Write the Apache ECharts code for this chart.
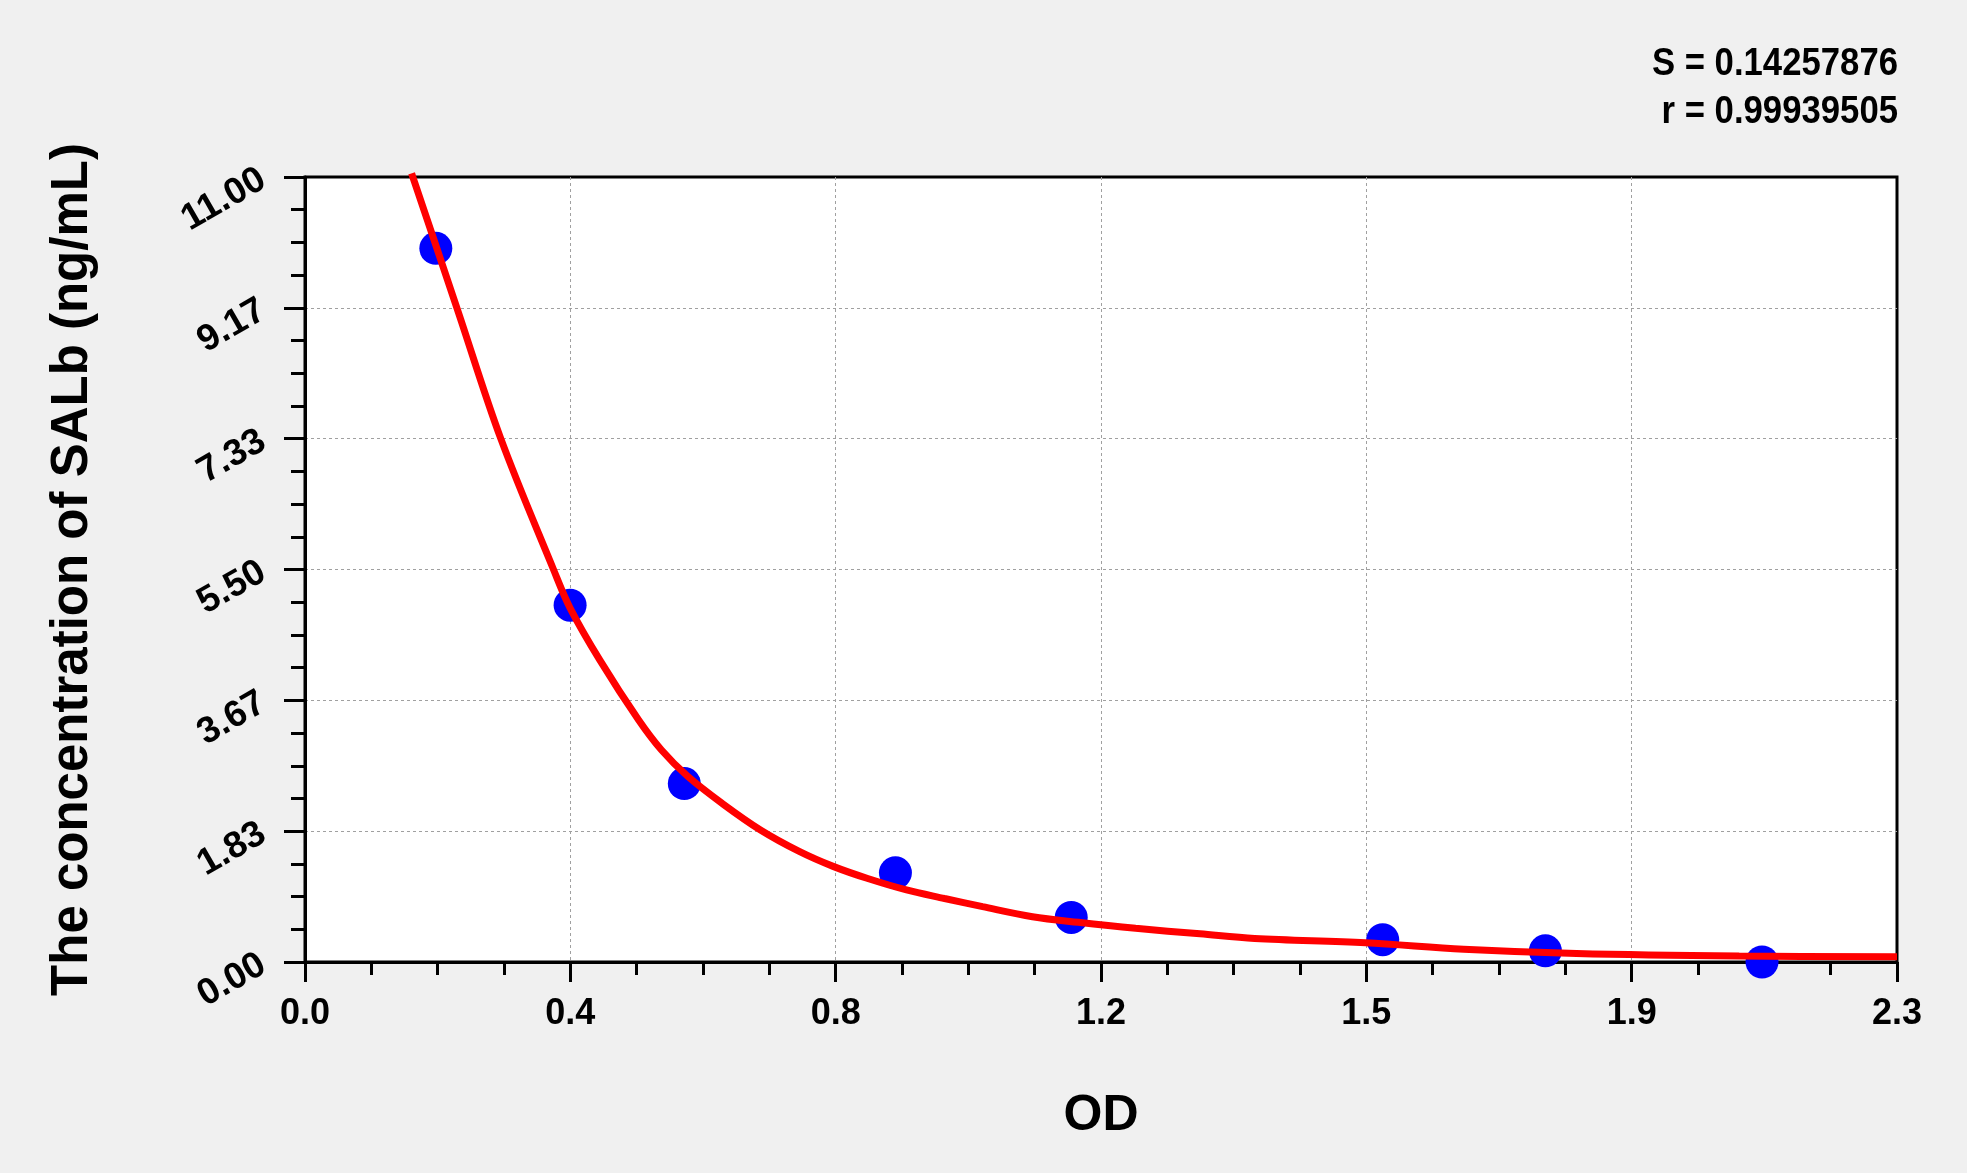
<!DOCTYPE html>
<html>
<head>
<meta charset="utf-8">
<script src="https://cdn.jsdelivr.net/npm/echarts@6/dist/echarts.min.js"></script>
<style>
html,body{margin:0;padding:0;background:#f0f0f0;}
#chart{width:1967px;height:1173px;}
</style>
</head>
<body>
<div id="chart"></div>
<script>
// Standard points (OD vs concentration)
const odValues   = [0.189, 0.383, 0.548, 0.853, 1.107, 1.557, 1.792, 2.105];
const concValues = [10, 5, 2.5, 1.25, 0.625, 0.3125, 0.156, 0];
// Fitted curve
const curveOD   = [0.154,0.220,0.283,0.359,0.383,0.426,0.482,0.515,0.553,0.603,0.658,0.714,0.763,0.813,0.869,0.924,0.979,1.051,1.117,1.200,1.293,1.372,1.532,1.674,1.837,2.072,2.300];
const curveConc = [11.05,9.15,7.33,5.50,4.96,4.23,3.39,2.97,2.60,2.22,1.85,1.55,1.34,1.17,1.01,0.89,0.775,0.635,0.556,0.472,0.395,0.33,0.27,0.18,0.12,0.084,0.075];
// Tick labels
const xTickLabels = ['0.0','0.4','0.8','1.2','1.5','1.9','2.3'];
const yTickLabels = ['0.00','1.83','3.67','5.50','7.33','9.17','11.00'];
const statLines = ['S = 0.14257876', 'r = 0.99939505'];
const xTitle = 'OD';
const yTitle = 'The concentration of SALb (ng/mL)';

const XMAX = 2.3, YMAX = 11;
const xInt = XMAX / 6, yInt = YMAX / 6;
const FONT = '"Liberation Sans", Arial, sans-serif';

const chart = echarts.init(document.getElementById('chart'));
chart.setOption({
  backgroundColor: '#f0f0f0',
  animation: false,
  grid: {left: 305, right: 70, top: 177, bottom: 211, show: true, backgroundColor: '#ffffff', borderColor: '#000', borderWidth: 3},
  xAxis: {
    type: 'value', min: 0, max: XMAX, interval: xInt,
    name: xTitle, nameLocation: 'middle', nameGap: 129,
    nameTextStyle: {fontFamily: FONT, fontWeight: 'bold', fontSize: 50, color: '#000'},
    axisLine: {show: true, onZero: false, lineStyle: {color: '#000', width: 3}},
    axisTick: {show: true, length: 20, lineStyle: {color: '#000', width: 3}},
    minorTick: {show: true, splitNumber: 4, length: 13, lineStyle: {color: '#000', width: 3}},
    axisLabel: {margin: 34, fontFamily: FONT, fontWeight: 'bold', fontSize: 36, color: '#000',
      formatter: v => xTickLabels[Math.round(v / xInt)]},
    splitLine: {show: true, showMinLine: false, showMaxLine: false, lineStyle: {color: '#a0a0a0', width: 1, type: [3, 3]}}
  },
  yAxis: {
    type: 'value', min: 0, max: YMAX, interval: yInt,
    name: yTitle, nameLocation: 'middle', nameGap: 207, nameRotate: 90,
    nameTextStyle: {fontFamily: FONT, fontWeight: 'bold', fontSize: 51, color: '#000'},
    axisLine: {show: true, onZero: false, lineStyle: {color: '#000', width: 3}},
    axisTick: {show: true, length: 21, lineStyle: {color: '#000', width: 3}},
    minorTick: {show: true, splitNumber: 4, length: 14, lineStyle: {color: '#000', width: 3}},
    axisLabel: {margin: 42, rotate: 30, fontFamily: FONT, fontWeight: 'bold', fontSize: 37, color: '#000',
      formatter: v => yTickLabels[Math.round(v / yInt)]},
    splitLine: {show: true, showMinLine: false, showMaxLine: false, lineStyle: {color: '#a0a0a0', width: 1, type: [3, 3]}}
  },
  graphic: statLines.map((t, i) => ({
    type: 'text', x: 1898, y: 64 + i * 48, scaleX: 0.89, z: 10,
    style: {text: t, textAlign: 'right', textVerticalAlign: 'middle', fill: '#000',
      font: 'bold 39px ' + FONT}
  })),
  series: [
    {type: 'scatter', data: odValues.map((x, i) => [x, concValues[i]]), symbol: 'circle', symbolSize: 33,
      itemStyle: {color: '#0000ff', opacity: 1}, clip: false, z: 3},
    {type: 'line', data: curveOD.map((x, i) => [x, curveConc[i]]), showSymbol: false, smooth: 0.35,
      lineStyle: {color: '#ff0000', width: 7}, clip: false, z: 4}
  ]
});
</script>
</body>
</html>
